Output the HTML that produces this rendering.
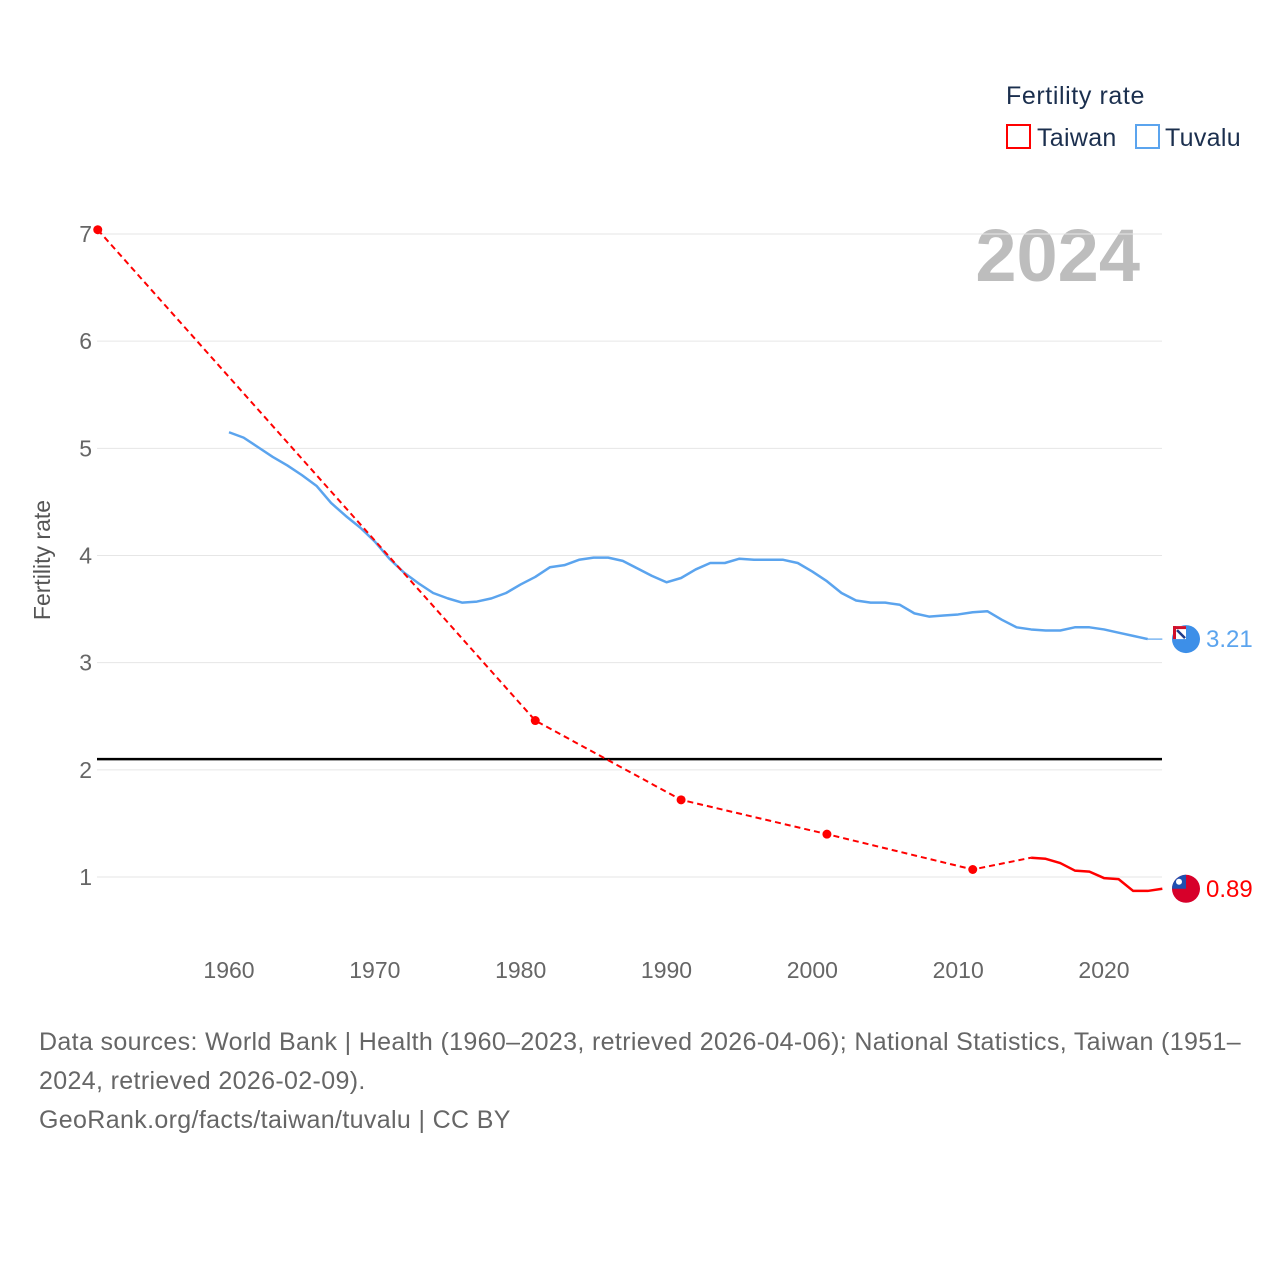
<!DOCTYPE html>
<html><head><meta charset="utf-8"><style>
body{margin:0;background:#fff;width:1280px;height:1280px;overflow:hidden;font-family:"Liberation Sans",sans-serif}
svg text{font-family:"Liberation Sans",sans-serif}
</style></head><body>
<svg id="chart" width="1280" height="1280" xmlns="http://www.w3.org/2000/svg">
<text x="1006" y="104" font-size="25" letter-spacing="0.6" fill="#1b2f4e">Fertility rate</text>
<rect x="1007" y="125" width="23" height="23" fill="none" stroke="#ff0000" stroke-width="2"/>
<text x="1037" y="146" font-size="25" letter-spacing="0.3" fill="#1b2f4e">Taiwan</text>
<rect x="1136" y="125" width="23" height="23" fill="none" stroke="#5ba4ee" stroke-width="2"/>
<text x="1165" y="146" font-size="25" letter-spacing="0.3" fill="#1b2f4e">Tuvalu</text>
<text x="1140" y="281" font-size="74" font-weight="bold" fill="#bdbdbd" text-anchor="end">2024</text>
<text transform="translate(50,560) rotate(-90)" font-size="23" fill="#555" text-anchor="middle">Fertility rate</text>
<g id="grid"></g><g id="marks"></g>
<text font-size="25" letter-spacing="0.35" fill="#666"><tspan x="39" y="1050">Data sources: World Bank | Health (1960–2023, retrieved 2026-04-06); National Statistics, Taiwan (1951–</tspan><tspan x="39" y="1089">2024, retrieved 2026-02-09).</tspan><tspan x="39" y="1128">GeoRank.org/facts/taiwan/tuvalu | CC BY</tspan></text>
</svg>
<script>
const yTicks=[1,2,3,4,5,6,7];
const xTicks=[1960,1970,1980,1990,2000,2010,2020];
const refValue=2.1;
const twSparseYears=[1951,1981,1991,2001,2011,2015];
const twSparseVals=[7.04,2.46,1.72,1.40,1.07,1.18];
const twYears=[2015,2016,2017,2018,2019,2020,2021,2022,2023,2024];
const twVals=[1.18,1.17,1.13,1.06,1.05,0.99,0.98,0.87,0.87,0.89];
const tuYears=[1960,1961,1962,1963,1964,1965,1966,1967,1968,1969,1970,1971,1972,1973,1974,1975,1976,1977,1978,1979,1980,1981,1982,1983,1984,1985,1986,1987,1988,1989,1990,1991,1992,1993,1994,1995,1996,1997,1998,1999,2000,2001,2002,2003,2004,2005,2006,2007,2008,2009,2010,2011,2012,2013,2014,2015,2016,2017,2018,2019,2020,2021,2022,2023];
const tuVals=[5.15,5.10,5.01,4.92,4.84,4.75,4.65,4.49,4.37,4.26,4.13,3.97,3.84,3.74,3.65,3.60,3.56,3.57,3.60,3.65,3.73,3.80,3.89,3.91,3.96,3.98,3.98,3.95,3.88,3.81,3.75,3.79,3.87,3.93,3.93,3.97,3.96,3.96,3.96,3.93,3.85,3.76,3.65,3.58,3.56,3.56,3.54,3.46,3.43,3.44,3.45,3.47,3.48,3.40,3.33,3.31,3.30,3.30,3.33,3.33,3.31,3.28,3.25,3.22];
const tuLabel=3.21;
const X=y=>229+(y-1960)*(875/60);
const Y=v=>877-(v-1)*(643/6);
const NS="http://www.w3.org/2000/svg";
function mk(p,tag,at){const e=document.createElementNS(NS,tag);for(const k in at)e.setAttribute(k,at[k]);p.appendChild(e);return e;}
const grid=document.getElementById('grid'),marks=document.getElementById('marks');
yTicks.forEach(t=>{
 const l=mk(grid,'line',{x1:97,x2:1162,y1:Y(t),y2:Y(t),stroke:'#e6e6e6','stroke-width':1});
 
 
 const tx=mk(grid,'text',{x:92,y:Y(t)+8,'font-size':23,fill:'#666','text-anchor':'end'});tx.textContent=t;
 
 
});
xTicks.forEach(t=>{
 const tx=mk(grid,'text',{x:X(t),y:978,'font-size':23,fill:'#666','text-anchor':'middle'});tx.textContent=t;
 
 
});
const ref=mk(marks,'line',{x1:97,x2:1162,y1:Y(refValue),y2:Y(refValue),stroke:'#000','stroke-width':2.5});


const pts=(ys,vs)=>ys.map((y,i)=>X(y)+','+Y(vs[i])).join(' ');
const tu=mk(marks,'polyline',{points:pts(tuYears,tuVals),fill:'none',stroke:'#5ba4ee','stroke-width':2.5,'stroke-linejoin':'round'});


const lastTu=tuVals[tuVals.length-1];
const tuExt=mk(marks,'line',{x1:X(tuYears[tuYears.length-1]),x2:X(2024),y1:Y(lastTu),y2:Y(lastTu),stroke:'#5ba4ee','stroke-width':1.2});


const twd=mk(marks,'polyline',{points:pts(twSparseYears,twSparseVals),fill:'none',stroke:'#ff0000','stroke-width':2,'stroke-dasharray':'6,4'});


const tws=mk(marks,'polyline',{points:pts(twYears,twVals),fill:'none',stroke:'#ff0000','stroke-width':2.5,'stroke-linejoin':'round'});


twSparseYears.slice(0,5).forEach((y,i)=>{
 const c=mk(marks,'circle',{cx:X(y),cy:Y(twSparseVals[i]),r:4.5,fill:'#ff0000'});
 
 
});
const fx=1186;
const tuy=Y(lastTu), twy=Y(twVals[twVals.length-1]);
const g1=mk(marks,'g',{});


mk(g1,'circle',{cx:fx,cy:tuy,r:14,fill:'#3d8fe8'});
mk(g1,'rect',{x:fx-13,y:tuy-13,width:13,height:13,fill:'#ffffff'});
mk(g1,'rect',{x:fx-13,y:tuy-13,width:13,height:3,fill:'#d0102b'});
mk(g1,'rect',{x:fx-13,y:tuy-13,width:3,height:13,fill:'#d0102b'});
mk(g1,'path',{d:`M${fx-9},${tuy-9} L${fx-1},${tuy-1}`,stroke:'#1d3a8a','stroke-width':2.5});
const t1=mk(marks,'text',{x:1206,y:tuy+8,'font-size':24,fill:'#5ba4ee'});t1.textContent=tuLabel.toFixed(2);


const g2=mk(marks,'g',{});


mk(g2,'circle',{cx:fx,cy:twy,r:14,fill:'#d7002a'});
mk(g2,'path',{d:`M${fx-14},${twy} A14,14 0 0 1 ${fx},${twy-14} L${fx},${twy} Z`,fill:'#1f4fb0'});
mk(g2,'circle',{cx:fx-7,cy:twy-7,r:3,fill:'#fff'});
const t2=mk(marks,'text',{x:1206,y:twy+8,'font-size':24,fill:'#ff0000'});t2.textContent=twVals[twVals.length-1].toFixed(2);


</script>
</body></html>
